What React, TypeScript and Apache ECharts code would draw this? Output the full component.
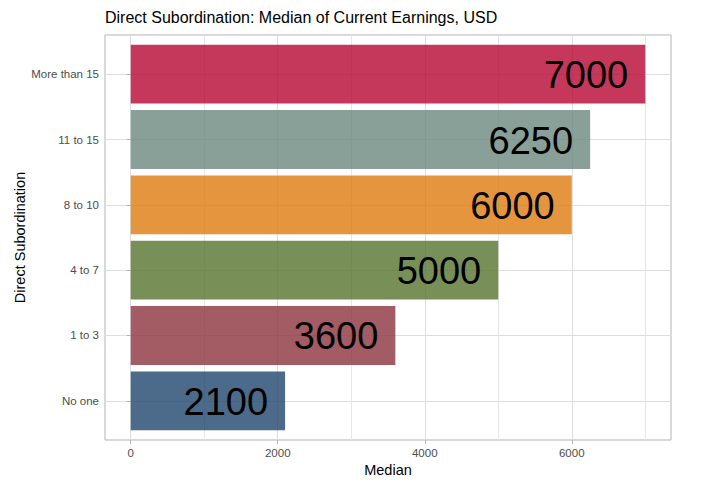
import React, { useEffect, useRef } from "react";
import * as echarts from "echarts";

const categories = ["No one", "1 to 3", "4 to 7", "8 to 10", "11 to 15", "More than 15"];
const medians = [2100, 3600, 5000, 6000, 6250, 7000];
const barColors = [
  "rgba(31,69,108,0.8)",
  "rgba(140,50,61,0.8)",
  "rgba(86,115,46,0.8)",
  "rgba(222,123,14,0.8)",
  "rgba(106,136,125,0.8)",
  "rgba(183,6,51,0.8)",
];
const xMajorTicks = [0, 2000, 4000, 6000];
const xMinorTicks = [1000, 3000, 5000, 7000];
const yPositions = [1, 2, 3, 4, 5, 6];

const FONT = "Liberation Sans, Arial, sans-serif";

export default function App() {
  const ref = useRef<HTMLDivElement>(null);
  useEffect(() => {
    if (!ref.current) return;
    const chart = echarts.init(ref.current, undefined, { renderer: "svg" });
    const data = medians.map((v, i) => [v, yPositions[i], i]);
    chart.setOption({
      animation: false,
      backgroundColor: "#ffffff",
      textStyle: { fontFamily: FONT },
      title: {
        text: "Direct Subordination: Median of Current Earnings, USD",
        left: 100,
        top: 4,
        textStyle: { fontSize: 16, fontWeight: "normal", color: "#000", fontFamily: FONT },
      },
      grid: {
        left: 105,
        right: 45,
        top: 35,
        bottom: 47,
        outerBoundsMode: "none",
        containLabel: false,
        show: true,
        borderColor: "#b3b3b3",
        borderWidth: 1,
        backgroundColor: "transparent",
      },
      xAxis: [
        {
          type: "value",
          min: -350,
          max: 7350,
          name: "Median",
          nameLocation: "middle",
          nameGap: 22,
          nameMoveOverlap: false,
          nameTextStyle: { fontSize: 14.5, color: "#000", fontFamily: FONT },
          axisLine: { show: false },
          axisTick: { show: true, length: 4, customValues: xMajorTicks, lineStyle: { color: "#b3b3b3" } },
          axisLabel: {
            customValues: xMajorTicks,
            fontSize: 11.5,
            color: "#4d4d4d",
            margin: 7,
            fontFamily: FONT,
            formatter: (v: number) => String(v),
          },
          splitLine: { show: true, lineStyle: { color: "#dedede", width: 1 } },
        },
        {
          type: "value",
          min: -350,
          max: 7350,
          position: "bottom",
          axisLine: { show: false },
          axisTick: { show: false, customValues: xMinorTicks },
          axisLabel: { show: false, customValues: xMinorTicks },
          splitLine: { show: true, lineStyle: { color: "#e6e6e6", width: 1 } },
        },
      ],
      yAxis: {
        type: "value",
        min: 0.4,
        max: 6.6,
        name: "Direct Subordination",
        nameLocation: "middle",
        nameGap: 78,
        nameMoveOverlap: false,
        nameRotate: 90,
        nameTextStyle: { fontSize: 14.5, color: "#000", fontFamily: FONT },
        axisLine: { show: false },
        axisTick: { show: true, length: 4, customValues: yPositions, lineStyle: { color: "#b3b3b3" } },
        axisLabel: {
          customValues: yPositions,
          fontSize: 11.5,
          color: "#4d4d4d",
          margin: 6,
          fontFamily: FONT,
          formatter: (v: number) => categories[Math.round(v) - 1] ?? "",
        },
        splitLine: { show: true, lineStyle: { color: "#dedede", width: 1 } },
      },
      series: [
        {
          type: "custom",
          xAxisIndex: 0,
          yAxisIndex: 0,
          data,
          renderItem: (params: any, api: any) => {
            const v = api.value(0);
            const y = api.value(1);
            const idx = api.value(2);
            const start = api.coord([0, y]);
            const end = api.coord([v, y]);
            const h = api.size([0, 0.9])[1];
            return {
              type: "group",
              children: [
                {
                  type: "rect",
                  shape: { x: start[0], y: start[1] - h / 2, width: end[0] - start[0], height: h },
                  style: { fill: barColors[idx] },
                },
                {
                  type: "text",
                  style: {
                    text: String(v),
                    x: end[0] - 17,
                    y: end[1] + 1,
                    align: "right",
                    verticalAlign: "middle",
                    fontSize: 38,
                    fontFamily: FONT,
                    fill: "#000",
                  },
                },
              ],
            };
          },
        },
      ],
    });
    return () => chart.dispose();
  }, []);
  return (
    <div
      ref={ref}
      style={{ position: "fixed", left: 0, top: 0, width: 716, height: 487, background: "#fff" }}
    />
  );
}
